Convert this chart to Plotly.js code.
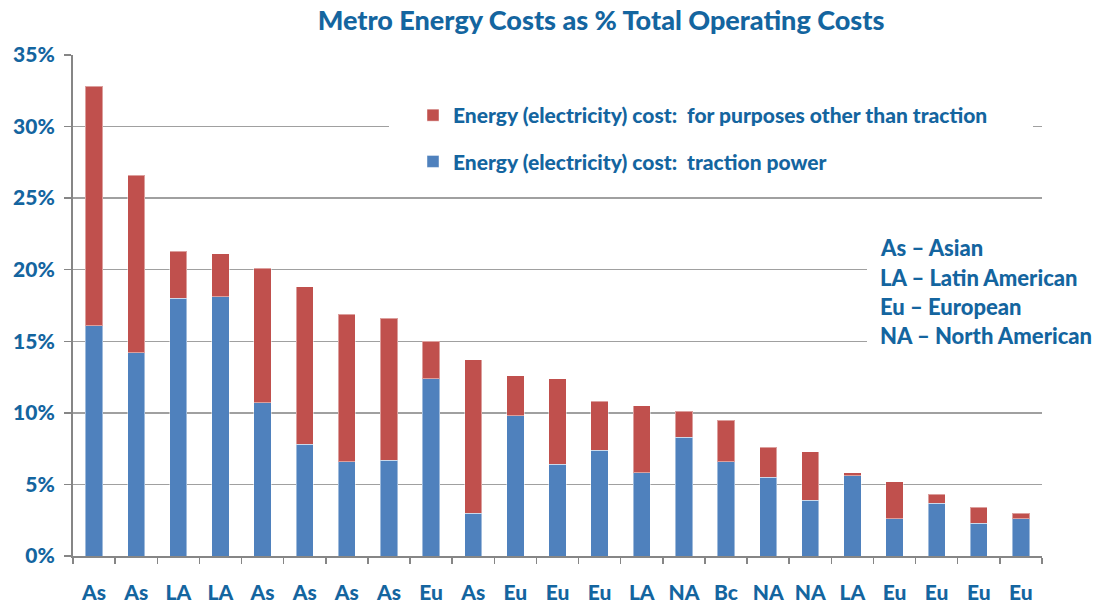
<!DOCTYPE html>
<html>
<head>
<meta charset="utf-8">
<script src="https://cdn.plot.ly/plotly-3.0.1.min.js"></script>
<style>html,body{margin:0;padding:0;background:#fff;}#chart{width:1100px;height:605px;}</style>
</head>
<body>
<div id="chart"></div>
<script>
// Region code of each metro (x-axis labels)
const regions = ["As","As","LA","LA","As","As","As","As","Eu","As","Eu","Eu","Eu","LA","NA","Bc","NA","NA","LA","Eu","Eu","Eu","Eu"];
// Traction power energy cost, % of total operating cost
const traction = [16.1,14.2,18.0,18.1,10.7,7.8,6.6,6.7,12.4,3.0,9.8,6.4,7.4,5.8,8.3,6.6,5.5,3.9,5.6,2.6,3.7,2.3,2.6];
// Total energy cost, % of total operating cost
const totalEnergy = [32.8,26.6,21.3,21.1,20.1,18.8,16.9,16.6,15.0,13.7,12.6,12.4,10.8,10.5,10.1,9.5,7.6,7.3,5.8,5.2,4.3,3.4,3.0];
// Other (non-traction) energy cost = total - traction
const otherPurposes = totalEnergy.map((t, i) => +(t - traction[i]).toFixed(2));

const seriesNames = ["Energy (electricity) cost:  traction power", "Energy (electricity) cost:  for purposes other than traction"];
const yTicks = [0,5,10,15,20,25,30,35];
const keyCodes = ["As","LA","Eu","NA"];
const keyNames = ["Asian","Latin American","European","North American"];

const BLUE_TEXT = "#14659f";
const FONT = "Lato, 'Open Sans', sans-serif";
const W = 900;
const xIdx = regions.map((_, i) => i);

const traces = [
  {type:"bar", name:seriesNames[0], x:xIdx, y:traction, width:0.41, legendrank:2,
   marker:{color:"#4F81BD", line:{color:"rgba(255,255,255,0.45)", width:1}}, legendgroup:"a"},
  {type:"bar", name:seriesNames[1], x:xIdx, y:otherPurposes, width:0.41, legendrank:1,
   marker:{color:"#C0504D", line:{color:"rgba(255,255,255,0.45)", width:1}}, legendgroup:"b"}
];

const annotations = keyCodes.map((c, i) => ({
  xref:"paper", yref:"paper", x:(878-73)/969, xanchor:"left",
  y:(556 - (248 + i*29.2))/501, yanchor:"middle",
  text:c + " \u2013 " + keyNames[i], showarrow:false,
  font:{family:FONT, size:22, color:BLUE_TEXT, weight:W}
}));

const layout = {
  width:1100, height:605,
  margin:{l:73, r:58, t:55, b:49, pad:0},
  paper_bgcolor:"#fff", plot_bgcolor:"#fff",
  barmode:"stack",
  title:{text:"Metro Energy Costs as % Total Operating Costs", x:601/1100, xanchor:"center", y:1-21/605, yanchor:"middle",
         font:{family:FONT, size:27, color:BLUE_TEXT, weight:W}},
  xaxis:{range:[-0.5, regions.length-0.5], tickmode:"array", tickvals:xIdx, ticktext:regions,
         ticks:"", showgrid:false, zeroline:false, showline:true, linecolor:"#868686", linewidth:2,
         ticklabelstandoff:17,
         tickfont:{family:FONT, size:21, color:BLUE_TEXT, weight:W},
         minor:{tickmode:"linear", tick0:-0.5, dtick:1, ticks:"outside", ticklen:6, tickcolor:"#868686", tickwidth:1.5, showgrid:false}},
  yaxis:{range:[0,35], tickmode:"array", tickvals:yTicks, ticktext:yTicks.map(v => v + "%"),
         ticks:"outside", ticklen:7, tickcolor:"#868686", tickwidth:1.5,
         showgrid:true, gridcolor:"#a0a0a0", gridwidth:1.5, zeroline:false,
         showline:true, linecolor:"#868686", linewidth:2, ticklabelstandoff:5,
         tickfont:{family:FONT, size:21, color:BLUE_TEXT, weight:W}},
  legend:{x:(413-73)/969, xanchor:"left", y:(556-95)/501, yanchor:"top",
          traceorder:"grouped", tracegroupgap:16, bgcolor:"rgba(255,255,255,0)",
          font:{family:FONT, size:21, color:BLUE_TEXT, weight:W}},
  shapes:[
    {type:"rect", layer:"above", xref:"paper", yref:"y", x0:(389-73)/969, x1:(1033-73)/969, y0:29, y1:31,
     fillcolor:"#fff", line:{width:0}},
    {type:"rect", layer:"above", xref:"paper", yref:"y", x0:(867-73)/969, x1:1.0, y0:13.5, y1:22.5,
     fillcolor:"#fff", line:{width:0}}
  ],
  annotations:annotations,
  showlegend:true
};

Plotly.newPlot("chart", traces, layout, {staticPlot:true, displayModeBar:false});
</script>
</body>
</html>
